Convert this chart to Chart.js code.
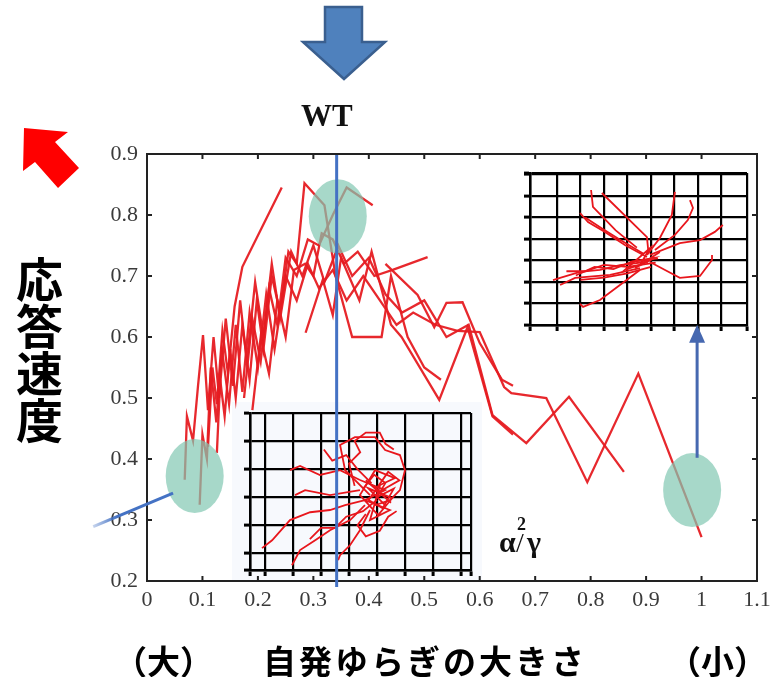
<!DOCTYPE html>
<html>
<head>
<meta charset="utf-8">
<script src="https://cdn.jsdelivr.net/npm/chart.js@4.4.1/dist/chart.umd.min.js"></script>
<style>
  body { margin: 0; background: #fff; }
  #wrap { position: relative; width: 770px; height: 677px; background: #fff; overflow: hidden; }
  #wrap canvas, #wrap .abs { position: absolute; }
  .jp { font-family: "Noto Sans CJK JP", sans-serif; font-weight: 700; color: #000; white-space: nowrap; }
  .serif { font-family: "Liberation Serif", "DejaVu Serif", serif; font-weight: 700; color: #111; }
</style>
</head>
<body>
<div id="wrap">
  <div class="abs" style="left:232px;top:402px;width:250px;height:180px;background:#f7f9fd;"></div>
  <canvas id="inset1" width="233" height="169" style="left:240px;top:411px;"></canvas>
  <canvas id="inset2" width="229" height="164" style="left:520px;top:171px;"></canvas>
  <canvas id="main" width="770" height="677" style="left:0;top:0;"></canvas>

  <svg class="abs" style="left:0;top:0" width="770" height="200">
    <polygon points="325,7 362,7 362,42 385,42 344,79 303,42 325,42" fill="#4f81bd" stroke="#3a5f8f" stroke-width="2.5"/>
    <polygon points="24,128 68,132 55,142 79,168 58,188 35,162 23,171" fill="#ff0000"/>
  </svg>

  <div class="abs serif" style="left:301px;top:98px;font-size:31px;">WT</div>
  <div class="abs serif" style="left:499px;top:525px;font-size:30px;">α</div>
  <div class="abs serif" style="left:517px;top:514px;font-size:18px;">2</div>
  <div class="abs serif" style="left:516px;top:527px;font-size:28px;font-weight:400;">/</div>
  <div class="abs serif" style="left:527px;top:525px;font-size:30px;">γ</div>

  <div class="abs jp" style="left:14px;top:256px;font-size:47px;line-height:51px;writing-mode:vertical-rl;">応答速度</div>
  <div class="abs jp" style="left:114px;top:636px;font-size:33px;">（大）</div>
  <div class="abs jp" style="left:263px;top:636px;font-size:33px;letter-spacing:3px;">自発ゆらぎの大きさ</div>
  <div class="abs jp" style="left:668px;top:636px;font-size:33px;">（小）</div>
</div>

<script>
// main axis ticks
const xTicks = [0, 0.1, 0.2, 0.3, 0.4, 0.5, 0.6, 0.7, 0.8, 0.9, 1.0, 1.1];
const yTicks = [0.2, 0.3, 0.4, 0.5, 0.6, 0.7, 0.8, 0.9];

// response-speed traces, [alpha^2/gamma, speed]
const trace1 = [[0.095,0.325],[0.10,0.44],[0.108,0.40],[0.115,0.55],[0.125,0.46],[0.135,0.58],[0.148,0.49],[0.16,0.62],[0.172,0.51],[0.185,0.64],[0.20,0.55],[0.215,0.67],[0.23,0.58],[0.25,0.70],[0.27,0.66],[0.29,0.72],[0.31,0.68],[0.335,0.71],[0.36,0.66],[0.39,0.70],[0.42,0.66],[0.45,0.62],[0.48,0.64],[0.52,0.62],[0.56,0.61],[0.60,0.608],[0.644,0.518],[0.657,0.508],[0.72,0.50],[0.794,0.362],[0.886,0.54],[1.0,0.272]];
const trace2 = [[0.068,0.366],[0.072,0.47],[0.083,0.43],[0.092,0.52],[0.101,0.603],[0.11,0.48],[0.12,0.60],[0.13,0.50],[0.142,0.63],[0.155,0.52],[0.168,0.66],[0.18,0.56],[0.195,0.69],[0.21,0.60],[0.225,0.72],[0.24,0.63],[0.26,0.74],[0.28,0.70],[0.30,0.75],[0.32,0.69],[0.345,0.75],[0.37,0.70],[0.40,0.73],[0.43,0.67],[0.46,0.64],[0.50,0.66],[0.54,0.60],[0.58,0.62],[0.623,0.472],[0.684,0.426],[0.761,0.502],[0.86,0.379]];
const trace3 = [[0.126,0.41],[0.132,0.53],[0.14,0.47],[0.15,0.58],[0.16,0.50],[0.172,0.62],[0.185,0.53],[0.198,0.66],[0.21,0.58],[0.225,0.70],[0.24,0.64],[0.255,0.74],[0.27,0.72],[0.284,0.852],[0.32,0.816],[0.34,0.70],[0.37,0.60],[0.423,0.60],[0.44,0.70],[0.47,0.60],[0.50,0.55],[0.53,0.53]];
const trace4 = [[0.11,0.42],[0.118,0.55],[0.126,0.49],[0.136,0.61],[0.146,0.54],[0.158,0.65],[0.172,0.715],[0.243,0.845]];
const trace5 = [[0.175,0.50],[0.19,0.63],[0.205,0.56],[0.22,0.68],[0.235,0.62],[0.25,0.73],[0.27,0.70],[0.29,0.76],[0.31,0.75],[0.335,0.80],[0.36,0.845],[0.407,0.816]];
const trace6 = [[0.19,0.48],[0.205,0.60],[0.22,0.54],[0.235,0.66],[0.25,0.60],[0.265,0.71],[0.285,0.72],[0.30,0.70],[0.315,0.77],[0.335,0.76],[0.355,0.72],[0.38,0.74],[0.41,0.70],[0.443,0.71],[0.506,0.731]];
const trace7 = [[0.286,0.607],[0.317,0.694],[0.335,0.636],[0.35,0.73],[0.383,0.66],[0.405,0.74],[0.44,0.62],[0.459,0.60],[0.527,0.497],[0.578,0.616],[0.623,0.47],[0.66,0.44]];
const trace8 = [[0.43,0.72],[0.488,0.669],[0.518,0.616],[0.54,0.656],[0.569,0.657],[0.60,0.59],[0.64,0.53],[0.66,0.52]];
const traces = [trace1, trace2, trace3, trace4, trace5, trace6, trace7, trace8];

// highlighted points (ellipses) and the WT marker
const wtX = 0.342;
const spots = [[0.086, 0.372], [0.344, 0.798], [0.983, 0.349]];

// inset 1 (large fluctuation) cell trajectories, grid units
const in1Ticks = { x: [-0.54, 0, 1, 2, 3, 4, 5, 6, 7, 7.36], y: [-0.6, 0, 1, 2, 3, 4, 5] };
const in1Paths = [
  [[3.75,2.07],[2.86,2.96],[2.68,3.86],[3.21,4.14],[3.93,4.14],[4.29,3.68],[4.82,3.5],[5.0,2.96],[4.82,2.25],[4.46,1.89],[3.93,1.71]],
  [[3.57,1.89],[2.86,1.71],[2.32,1.54],[1.61,1.46],[0.89,1.18],[0.25,0.46],[-0.11,0.18]],
  [[3.57,1.71],[3.04,1.18],[2.32,0.82],[1.79,0.46],[1.25,0.11],[0.96,-0.43]],
  [[3.39,2.61],[2.68,2.96],[1.96,2.79],[1.25,3.11],[0.89,2.96]],
  [[3.39,2.25],[2.32,2.07],[1.43,2.25],[1.07,2.07]],
  [[3.39,2.61],[4.29,2.25],[3.57,1.89],[4.46,1.54],[3.75,1.18],[4.11,2.43],[4.64,2.68],[3.93,2.96],[3.39,2.07],[4.04,1.36],[4.54,1.96],[3.68,2.32],[4.29,1.71]],
  [[3.75,1.54],[3.39,0.82],[3.04,0.29],[2.68,-0.07],[2.61,-0.25]],
  [[3.5,2.3],[3.9,2.8],[4.3,2.5],[4.0,2.0],[4.6,2.3],[4.2,1.6],[3.7,1.9],[4.4,2.9],[4.8,2.6],[4.1,2.2],[3.6,2.6],[4.5,1.8]],
  [[3.2,2.4],[3.0,3.2],[3.4,3.6],[3.2,4.0],[3.6,4.3],[4.1,4.3],[4.3,3.9],[4.6,3.7]],
  [[3.6,1.4],[3.3,1.0],[3.6,0.6],[4.1,0.8],[4.4,1.3],[4.7,1.5]],
  [[3.8,2.5],[3.3,3.0],[2.9,3.5],[2.4,3.3],[2.1,3.7]],
  [[4.0,1.9],[3.5,1.5],[2.9,1.3],[2.5,0.9],[2.0,0.9],[1.6,0.5]]
];

// inset 2 (small fluctuation) cell trajectories, grid units
const in2Ticks = { x: [-1.15, 0, 1, 2, 3, 4, 5, 6, 7, 8.09], y: [0, 1, 2, 3, 4, 5, 6, 7, 7.07] };
const in2Paths = [
  [[3.83,3.16],[2.89,3.72],[2.04,4.33],[1.32,4.79],[0.98,5.21]],
  [[3.7,3.3],[2.7,3.95],[1.9,4.5],[1.2,5.0]],
  [[1.45,6.28],[1.53,5.49],[2.5,4.4],[3.4,3.6]],
  [[1.91,6.14],[3.83,4.09],[3.9,3.3]],
  [[3.83,3.26],[4.38,4.05],[4.89,5.12],[5.02,6.19]],
  [[4.17,3.49],[5.02,4.19],[5.57,4.88],[5.79,5.44],[5.66,5.81]],
  [[3.96,3.26],[5.23,3.81],[6.09,3.95],[6.72,4.33],[7.06,4.65]],
  [[3.96,2.93],[4.6,2.56],[5.23,2.19],[6.09,2.28],[6.6,3.02],[6.6,3.26]],
  [[3.74,2.93],[2.68,2.79],[1.83,2.56],[0.98,2.47],[0.13,2.19],[-0.17,2.09]],
  [[3.53,2.65],[2.26,2.33],[0.77,2.19],[0.13,1.86]],
  [[3.53,2.56],[2.68,1.86],[1.83,1.16],[1.11,0.84],[0.98,0.98]],
  [[3.11,2.93],[4.17,3.12],[3.32,2.65],[4.38,3.40],[3.53,2.79],[3.96,3.58],[2.89,2.56],[3.87,2.93]],
  [[4.2,2.9],[3.0,2.7],[2.0,2.8],[1.2,2.5],[0.4,2.5]],
  [[4.3,3.1],[3.2,2.95],[2.4,2.6],[1.6,2.7],[0.8,2.3]],
  [[4.0,2.7],[3.0,2.4],[2.0,2.2],[1.0,2.1]]
];

Chart.defaults.font.family = '"Liberation Serif", "DejaVu Serif", serif';
Chart.defaults.animation = false;

const RED = 'rgba(230,28,34,0.95)';
const toXY = arr => arr.map(p => ({ x: p[0], y: p[1] }));

// extra drawing: frame, inward ticks, ellipses, blue markers
const decor = {
  id: 'decor',
  afterDatasetsDraw(chart) {
    const { ctx, chartArea: a, scales: { x, y } } = chart;
    ctx.save();
    // green ellipses drawn over the traces
    ctx.fillStyle = 'rgba(130,200,178,0.7)';
    spots.forEach(s => {
      ctx.beginPath();
      ctx.ellipse(x.getPixelForValue(s[0]), y.getPixelForValue(s[1]), 29, 37, 0, 0, Math.PI * 2);
      ctx.fill();
    });
    ctx.strokeStyle = '#4472c4';
    ctx.lineWidth = 3;
    // WT vertical line
    const wx = x.getPixelForValue(wtX);
    ctx.beginPath();
    ctx.moveTo(wx, a.top + 1);
    ctx.lineTo(wx, a.bottom + 6);
    ctx.stroke();
    // pointer from left ellipse
    const x0 = x.getPixelForValue(-0.097), y0 = y.getPixelForValue(0.289);
    const x1 = x.getPixelForValue(0.047), y1 = y.getPixelForValue(0.344);
    const g = ctx.createLinearGradient(x0, 0, x1, 0);
    g.addColorStop(0, 'rgba(68,114,196,0.3)');
    g.addColorStop(0.3, 'rgba(68,114,196,1)');
    ctx.strokeStyle = g;
    ctx.beginPath();
    ctx.moveTo(x0, y0);
    ctx.lineTo(x1, y1);
    ctx.stroke();
    // arrow from right ellipse up to the inset
    const ax = x.getPixelForValue(0.992), ay0 = y.getPixelForValue(0.402), ay1 = y.getPixelForValue(0.62);
    ctx.strokeStyle = '#4668b0';
    ctx.beginPath();
    ctx.moveTo(ax, ay0);
    ctx.lineTo(ax, ay1 + 14);
    ctx.stroke();
    ctx.fillStyle = '#4668b0';
    ctx.beginPath();
    ctx.moveTo(ax, ay1);
    ctx.lineTo(ax - 8, ay1 + 18);
    ctx.lineTo(ax + 8, ay1 + 18);
    ctx.closePath();
    ctx.fill();
    ctx.restore();
  },
  afterDraw(chart) {
    const { ctx, chartArea: a, scales: { x, y } } = chart;
    ctx.save();
    ctx.strokeStyle = '#222';
    ctx.lineWidth = 2;
    ctx.beginPath();
    ctx.moveTo(a.left, a.top);
    ctx.lineTo(a.right, a.top);
    ctx.lineTo(a.right, a.bottom);
    ctx.stroke();
    ctx.beginPath();
    xTicks.slice(1, -1).forEach(v => {
      const px = x.getPixelForValue(v);
      ctx.moveTo(px, a.bottom); ctx.lineTo(px, a.bottom - 5);
      ctx.moveTo(px, a.top); ctx.lineTo(px, a.top + 5);
    });
    yTicks.slice(1, -1).forEach(v => {
      const py = y.getPixelForValue(v);
      ctx.moveTo(a.left, py); ctx.lineTo(a.left + 5, py);
      ctx.moveTo(a.right, py); ctx.lineTo(a.right - 5, py);
    });
    ctx.stroke();
    ctx.restore();
  }
};

new Chart(document.getElementById('main'), {
  type: 'scatter',
  data: {
    datasets: traces.map(t => ({
      data: toXY(t),
      showLine: true,
      borderColor: RED,
      borderWidth: 2.3,
      pointRadius: 0,
      tension: 0
    }))
  },
  options: {
    responsive: false,
    layout: { padding: { left: 105, right: 13, top: 154, bottom: 66 } },
    plugins: { legend: { display: false }, tooltip: { enabled: false } },
    scales: {
      x: {
        type: 'linear', min: 0, max: 1.1,
        afterBuildTicks: s => { s.ticks = xTicks.map(v => ({ value: v })); },
        afterFit: s => { s.height = 30; s.paddingLeft = 0; s.paddingRight = 0; },
        grid: { display: false, drawTicks: false },
        border: { display: true, color: '#222', width: 2 },
        ticks: { padding: 6, color: '#3a3a3a', font: { size: 22 },
          callback: v => String(Math.round(v * 10) / 10) }
      },
      y: {
        type: 'linear', min: 0.2, max: 0.9,
        afterBuildTicks: s => { s.ticks = yTicks.map(v => ({ value: v })); },
        afterFit: s => { s.width = 42; s.paddingTop = 0; s.paddingBottom = 0; },
        grid: { display: false, drawTicks: false },
        border: { display: true, color: '#222', width: 2 },
        ticks: { padding: 9, color: '#3a3a3a', font: { size: 22 },
          callback: v => v.toFixed(1) }
      }
    }
  },
  plugins: [decor]
});

function makeInset(id, paths, ticks, bg) {
  const axis = (list, isX) => ({
    type: 'linear', min: list[0], max: list[list.length - 1],
    afterBuildTicks: s => { s.ticks = list.map(v => ({ value: v })); },
    afterFit: s => { if (isX) s.height = 8; else s.width = 8; },
    grid: { color: '#000', lineWidth: 2.2, drawTicks: true, tickLength: 6, tickColor: '#000', tickWidth: 3 },
    border: { display: true, color: '#000', width: 2.5 },
    ticks: { display: false }
  });
  new Chart(document.getElementById(id), {
    type: 'scatter',
    data: {
      datasets: paths.map(p => ({
        data: toXY(p),
        showLine: true,
        borderColor: '#e8161c',
        borderWidth: 1.8,
        pointRadius: 0,
        tension: 0
      }))
    },
    options: {
      responsive: false,
      layout: { padding: 2 },
      plugins: { legend: { display: false }, tooltip: { enabled: false } },
      scales: { x: axis(ticks.x, true), y: axis(ticks.y, false) }
    },
    plugins: [{
      id: 'bg',
      beforeDraw(c) {
        const a = c.chartArea;
        c.ctx.save();
        c.ctx.fillStyle = bg;
        c.ctx.fillRect(a.left, a.top, a.right - a.left, a.bottom - a.top);
        c.ctx.restore();
      }
    }]
  });
}

makeInset('inset1', in1Paths, in1Ticks, '#f7f9fd');
makeInset('inset2', in2Paths, in2Ticks, '#ffffff');
</script>
</body>
</html>
